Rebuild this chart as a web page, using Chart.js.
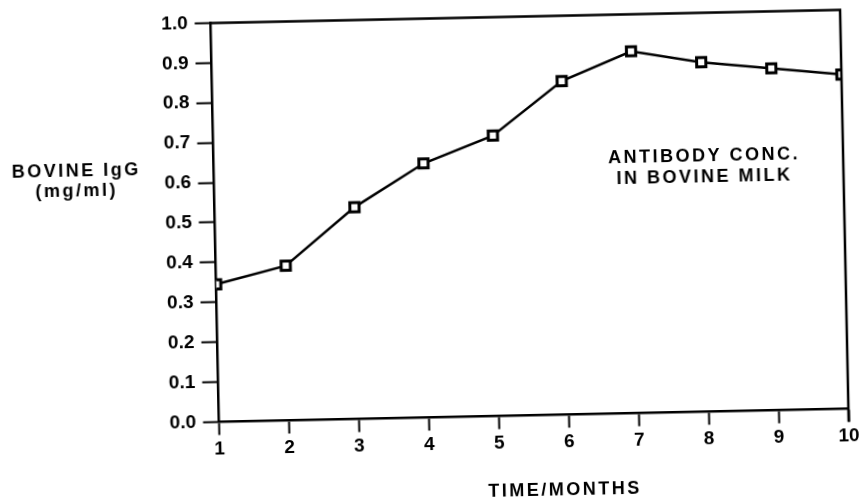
<!DOCTYPE html>
<html lang="en">
<head>
    <meta charset="UTF-8">
    <title>Antibody conc. in bovine milk</title>
    <script src="https://cdn.jsdelivr.net/npm/chart.js"></script>
    <style>
        body { margin: 0; background: #fff; }
        /* the scanned figure sits a little tilted */
        #grafico { display: block; transform: rotate(-1.2deg); }
    </style>
</head>
<body>

<canvas id="grafico" width="864" height="500"></canvas>

<script>
    // months after start
    const meses = [1, 2, 3, 4, 5, 6, 7, 8, 9, 10]
    // bovine IgG, mg/ml
    const igg = [0.345, 0.388, 0.531, 0.637, 0.703, 0.836, 0.907, 0.876, 0.857, 0.838]

    const tituloY = ['BOVINE IgG', '(mg/ml)']
    const tituloX = 'TIME/MONTHS'
    const legenda = ['ANTIBODY CONC.', 'IN BOVINE MILK']

    const fonteTick = { family: 'Liberation Sans', size: 19, weight: 'bold' }

    // box on top and right plus the loose texts
    const textos = {
        id: 'textos',
        afterDraw(chart) {
            const ctx = chart.ctx
            const a = chart.chartArea
            ctx.save()
            ctx.strokeStyle = '#000'
            ctx.lineWidth = 2.5
            ctx.beginPath()
            ctx.moveTo(a.left, a.top)
            ctx.lineTo(a.right, a.top)
            ctx.lineTo(a.right, a.bottom + 13)
            ctx.stroke()

            ctx.fillStyle = '#000'
            ctx.font = 'bold 18px "Liberation Sans"'
            ctx.letterSpacing = '2.5px'
            ctx.textAlign = 'center'
            ctx.textBaseline = 'middle'
            ctx.fillText(tituloY[0], 78, 164)
            ctx.fillText(tituloY[1], 78, 184)
            ctx.fillText(legenda[0], 706, 162)
            ctx.fillText(legenda[1], 706, 183)
            ctx.fillText(tituloX, 560, 493)
            ctx.restore()
        }
    }

    const config = {
        type: 'line',
        data: {
            datasets: [{
                data: meses.map((m, i) => ({ x: m, y: igg[i] })),
                borderColor: '#000',
                borderWidth: 2.5,
                tension: 0,
                pointStyle: 'rect',
                pointRadius: 6.5,
                pointBackgroundColor: '#fff',
                pointBorderColor: '#000',
                pointBorderWidth: 3
            }]
        },
        options: {
            responsive: false,
            animation: false,
            layout: {
                padding: { top: 10, right: 19, left: 0, bottom: 0 }
            },
            scales: {
                x: {
                    type: 'linear',
                    min: 1,
                    max: 10,
                    afterFit: s => { s.height = 82.5 },
                    ticks: { stepSize: 1, color: '#000', font: fonteTick, padding: 3 },
                    grid: { drawOnChartArea: false, tickLength: 13, tickColor: '#000', tickWidth: 2 },
                    border: { color: '#000', width: 2.5 }
                },
                y: {
                    min: 0,
                    max: 1,
                    afterFit: s => { s.width = 215.5 },
                    ticks: {
                        stepSize: 0.1,
                        color: '#000',
                        font: fonteTick,
                        padding: 7,
                        callback: v => v.toFixed(1)
                    },
                    grid: { drawOnChartArea: false, tickLength: 16, tickColor: '#000', tickWidth: 2 },
                    border: { color: '#000', width: 2.5 }
                }
            },
            plugins: {
                legend: { display: false },
                tooltip: { enabled: false }
            }
        },
        plugins: [textos]
    }

    new Chart(document.getElementById('grafico'), config)
</script>

</body>
</html>
